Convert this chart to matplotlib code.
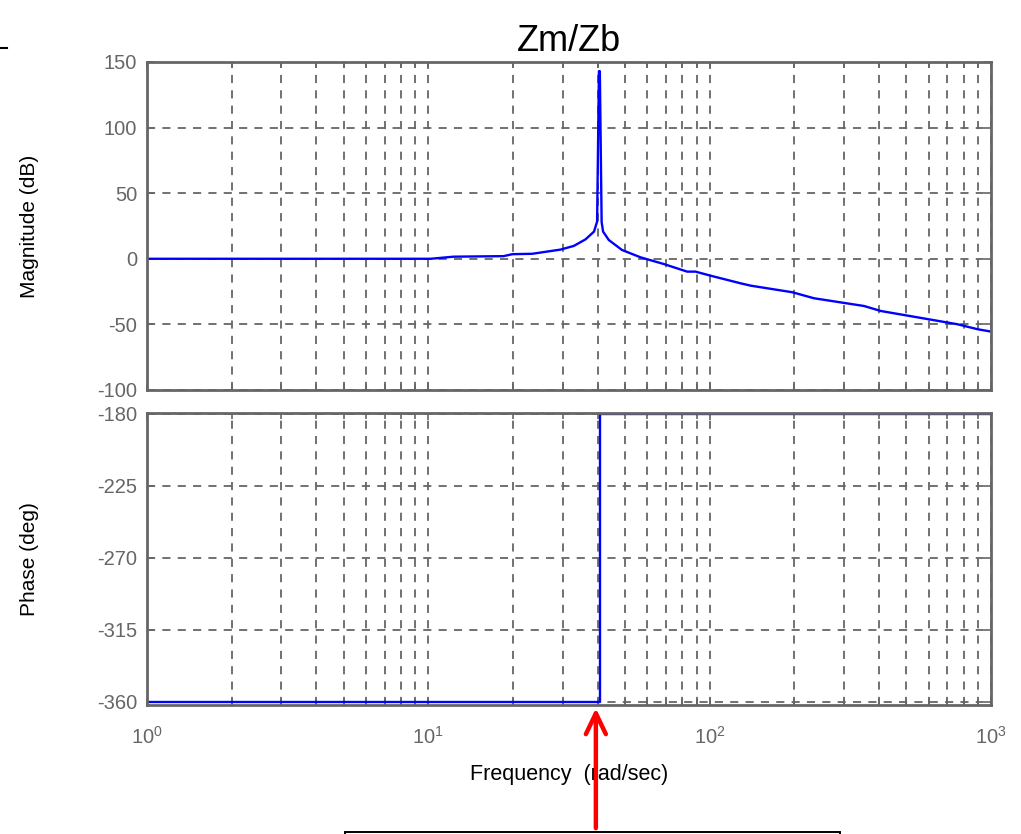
import matplotlib

matplotlib.use("Agg")
import matplotlib.pyplot as plt
from matplotlib.lines import Line2D
from matplotlib.patches import Rectangle
from matplotlib.ticker import FixedLocator, LogLocator, NullFormatter

plt.rcParams["font.family"] = ["Liberation Sans", "DejaVu Sans"]
plt.rcParams["mathtext.fontset"] = "custom"
plt.rcParams["mathtext.rm"] = "Liberation Sans"
plt.rcParams["axes.unicode_minus"] = False

# values
freq_mag = [1, 10.2, 12.3, 18.5, 19.9, 23.4, 29.5, 32.9, 36.2, 38.8, 39.8, 40.4,
            40.7, 41.3, 41.8, 43.8, 48.8, 56.8, 68.7, 83.2, 89.1, 100.8, 128.8,
            140, 196.6, 234.9, 354, 405.8, 760, 896, 1000]
mag_db = [0, 0, 1.6, 2, 3.5, 3.8, 7, 9.8, 14.8, 20.7, 28.3, 143,
          143, 28, 20.7, 14.3, 6.7, 1.1, -4, -9.8, -9.8, -12.9, -18.7,
          -20.5, -25.5, -30.1, -36, -39.8, -49.9, -53.7, -55.5]

freq_phase = [1, 40.6, 40.6, 1000]
phase_deg = [-360, -360, -180, -180]

mag_ticks = [-100, -50, 0, 50, 100, 150]
phase_ticks = [-360, -315, -270, -225, -180]
freq_ticks = [1, 10, 100, 1000]
freq_labels = [r"$10^0$", r"$10^1$", r"$10^2$", r"$10^3$"]

arrow_freq = 39.4

GRAY = "#666666"
BLUE = "#0000ff"


def style_axis(ax):
    ax.set_xscale("log")
    ax.set_xlim(1, 1000)
    ax.xaxis.set_major_locator(FixedLocator(freq_ticks))
    ax.xaxis.set_minor_locator(LogLocator(base=10, subs=range(2, 10)))
    ax.xaxis.set_minor_formatter(NullFormatter())
    ax.grid(True, which="both", axis="x", color=GRAY, ls=(0, (4.5, 4)), lw=1.3)
    ax.grid(True, which="major", axis="y", color=GRAY, ls=(0, (4.5, 4)), lw=1.3)
    ax.tick_params(which="both", direction="in", colors=GRAY, labelsize=14.5,
                   top=True, right=True, width=1.2, pad=7)
    ax.tick_params(which="major", length=5)
    ax.tick_params(which="minor", length=4)
    for sp in ax.spines.values():
        sp.set_color(GRAY)
        sp.set_linewidth(2)


fig = plt.figure(figsize=(10.21, 8.34), dpi=100)
ax_mag = fig.add_axes([0.144, 0.5324, 0.8266, 0.3933])
ax_ph = fig.add_axes([0.144, 0.1547, 0.8266, 0.3501])

ax_mag.plot(freq_mag, mag_db, color=BLUE, lw=1.7)
style_axis(ax_mag)
ax_mag.set_ylim(-100, 150)
ax_mag.set_yticks(mag_ticks)
ax_mag.set_xticklabels([])
ax_mag.set_ylabel("Magnitude (dB)", fontsize=15)
ax_mag.set_title("Zm/Zb", fontsize=26, pad=8)

ax_ph.plot(freq_phase, phase_deg, color=BLUE, lw=1.7)
style_axis(ax_ph)
ax_ph.set_ylim(-362, -179.5)
ax_ph.set_yticks(phase_ticks)
ax_ph.set_xticklabels(freq_labels)
ax_ph.tick_params(axis="x", which="major", pad=15)
ax_ph.set_ylabel("Phase (deg)", fontsize=15)
ax_ph.set_xlabel("Frequency  (rad/sec)", fontsize=15.5, labelpad=12)
ax_ph.yaxis.set_label_coords(-0.128, 0.5)
ax_mag.yaxis.set_label_coords(-0.128, 0.5)

# red arrow pointing up at the resonance frequency
ax_ph.annotate(
    "",
    xy=(arrow_freq, -364),
    xycoords="data",
    xytext=(arrow_freq, 0.007),
    textcoords=("data", "figure fraction"),
    arrowprops=dict(arrowstyle="->,head_length=1.5,head_width=0.72", color="red", lw=3.2,
                    shrinkA=0, shrinkB=0),
    annotation_clip=False,
)

# empty text box below, cut off by the figure edge
fig.add_artist(Rectangle((0.3379, -0.05), 0.4848, 0.0526, transform=fig.transFigure,
                         fill=False, edgecolor="black", lw=1.4))
fig.add_artist(Line2D([0, 0.007], [0.9424, 0.9424], transform=fig.transFigure,
                      color="black", lw=1.5))

fig.savefig("out.png", dpi=100)
